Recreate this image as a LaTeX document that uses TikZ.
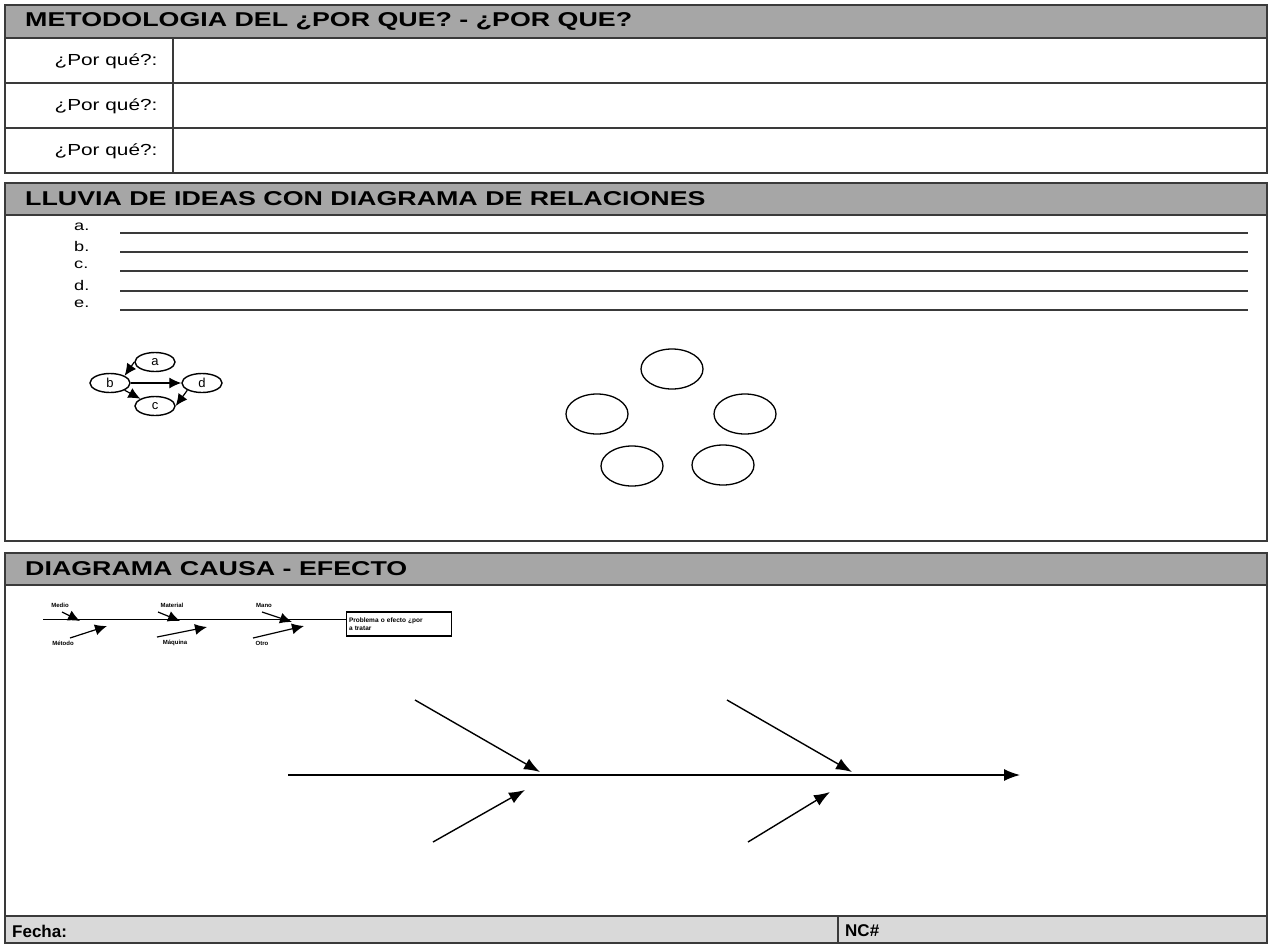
\documentclass[tikz,border=0pt]{standalone}
\usepackage{fontspec}
\setmainfont{Liberation Sans}
\usetikzlibrary{shapes.geometric,arrows.meta}
\definecolor{hdrgray}{HTML}{A6A6A6}
\definecolor{footgray}{HTML}{D9D9D9}
\definecolor{framegray}{HTML}{3A3A3A}
\newcommand{\wide}[1]{\scalebox{1.3}[1]{#1}}
\newcommand{\wider}[1]{\scalebox{1.34}[1]{#1}}
\tikzset{
  frame/.style={line width=2pt,framegray},
  rule/.style={line width=1.5pt,framegray},
  hdr/.style={anchor=west,inner sep=0pt,font=\fontsize{20}{20}\selectfont\bfseries},
  ask/.style={inner sep=0pt,font=\fontsize{16}{16}\selectfont},
  item/.style={anchor=west,inner sep=0pt,font=\fontsize{14}{14}\selectfont},
  foot/.style={anchor=west,inner sep=0pt,font=\fontsize{17}{17}\selectfont\bfseries},
  bubble/.style={draw,ellipse,line width=1.4pt,minimum width=40pt,minimum height=19pt,inner sep=0pt,font=\fontsize{13}{13}\selectfont},
  bigbubble/.style={draw,ellipse,line width=1.3pt,minimum width=62pt,minimum height=40pt},
  tinytxt/.style={inner sep=0pt,font=\fontsize{6}{6}\selectfont\bfseries},
  smallbone/.style={line width=1.2pt,-{Latex[length=12pt,width=11pt]}},
  bone/.style={line width=1.4pt,-{Latex[length=16pt,width=12pt]}}
}
\begin{document}
\begin{tikzpicture}[x=1pt,y=-1pt]
  \useasboundingbox (0,0) rectangle (1268,943);
  % --- metodologia del por que
  \fill[hdrgray] (5,5) rectangle (1267,38);
  \draw[rule] (5,38) -- (1267,38);
  \draw[rule] (5,83) -- (1267,83);
  \draw[rule] (5,128) -- (1267,128);
  \draw[rule] (173,38) -- (173,173);
  \draw[frame] (5,5) rectangle (1267,173);
  \node[hdr] at (25,21) (T1) {\wider{METODOLOGIA DEL ¿POR QUE? - ¿POR QUE?}};
  \node[ask] at (106,61) (W1) {\wide{¿Por qué?:}};
  \node[ask] at (106,106) (W2) {\wide{¿Por qué?:}};
  \node[ask] at (106,151) (W3) {\wide{¿Por qué?:}};
  % --- lluvia de ideas
  \fill[hdrgray] (5,183) rectangle (1267,215);
  \draw[rule] (5,215) -- (1267,215);
  \draw[frame] (5,183) rectangle (1267,541);
  \node[hdr] at (25,199) (T2) {\wider{LLUVIA DE IDEAS CON DIAGRAMA DE RELACIONES}};
  \foreach \lbl/\y in {a/230,b/249,c/268,d/288,e/307}{
    \node[item] at (74,\y-3) (L\lbl) {\wide{\lbl.}};
    \draw[line width=1.5pt,framegray] (120,\y+3) -- (1248,\y+3);
  }
  \node[bubble] at (155,362) (a) {a};
  \node[bubble] at (110,383) (b) {b};
  \node[bubble] at (202,383) (d) {d};
  \node[bubble] at (155,406) (c) {c};
  \draw[smallbone] (a.west) -- (b.north east);
  \draw[smallbone] (b.east) -- (d.west);
  \draw[smallbone] (b.south east) -- (c.north west);
  \draw[smallbone] (d.south west) -- (c.east);
  \node[bigbubble] at (672,369) (C1) {};
  \node[bigbubble] at (597,414) (C2) {};
  \node[bigbubble] at (745,414) (C3) {};
  \node[bigbubble] at (632,466) (C4) {};
  \node[bigbubble] at (723,465) (C5) {};
  % --- diagrama causa efecto
  \fill[hdrgray] (5,553) rectangle (1267,585);
  \draw[rule] (5,585) -- (1267,585);
  \fill[footgray] (5,916) rectangle (1267,943);
  \draw[frame] (5,916) -- (1267,916);
  \draw[rule] (838,916) -- (838,943);
  \draw[frame] (5,553) rectangle (1267,943);
  \node[hdr] at (25,569) (T3) {\wider{DIAGRAMA CAUSA - EFECTO}};
  \node[foot] at (12,931) (F1) {Fecha:};
  \node[foot] at (845,931) (F2) {NC\#};
  % mini fishbone
  \node[draw,line width=1.3pt,minimum width=105pt,minimum height=24pt,text width=100pt,inner sep=1pt,align=left,font=\fontsize{6.5}{7.5}\selectfont\bfseries] at (399,624) (eff) {Problema o efecto ¿por\\a tratar};
  \coordinate (s0) at (43,619);
  \draw[line width=1pt] (s0) -- (s0 -| eff.west);
  \node[tinytxt] at (60,605) (u1) {Medio};
  \node[tinytxt] at (172,605) (u2) {Material};
  \node[tinytxt] at (264,605) (u3) {Mano};
  \node[tinytxt] at (63,643) (d1) {Método};
  \node[tinytxt] at (175,643) (d2) {Máquina};
  \node[tinytxt] at (262,643) (d3) {Otro};
  \draw[smallbone] (62,612) -- (80,621);
  \draw[smallbone] (158,612) -- (180,621);
  \draw[smallbone] (262,612) -- (292,622);
  \draw[smallbone] (70,638) -- (107,626);
  \draw[smallbone] (157,637) -- (207,627);
  \draw[smallbone] (253,638) -- (304,626);
  % big fishbone
  \coordinate (tail) at (288,775);
  \coordinate (head) at (1020,775);
  \draw[bone] (tail) -- (head);
  \draw[bone] (415,700) -- (540,772);
  \draw[bone] (727,700) -- (852,772);
  \draw[bone] (433,842) -- (525,790);
  \draw[bone] (748,842) -- (830,792);
\end{tikzpicture}
\end{document}
